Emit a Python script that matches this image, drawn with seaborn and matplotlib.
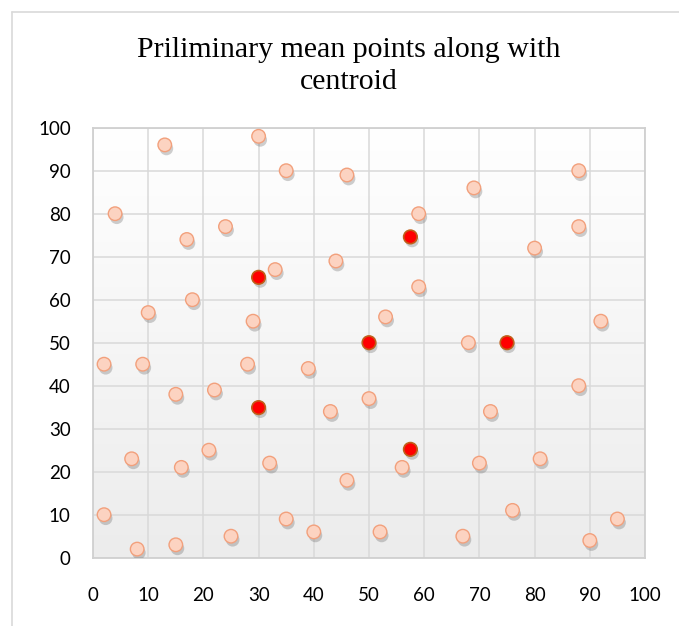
import numpy as np
import pandas as pd
import matplotlib
matplotlib.use("Agg")
import matplotlib.pyplot as plt
import matplotlib.patheffects as pe
from matplotlib.colors import LinearSegmentedColormap
from matplotlib.lines import Line2D
import seaborn as sns

# ---- data ----
points_x = [13, 30, 35, 46, 4, 17, 24, 59, 69, 88, 88, 80, 33, 44, 59, 18, 10, 29, 53, 92,
            2, 9, 28, 39, 68, 88, 15, 22, 43, 50, 72, 7, 16, 21, 32, 46, 56, 70, 81,
            2, 8, 15, 25, 35, 40, 52, 67, 76, 90, 95]
points_y = [96, 98, 90, 89, 80, 74, 77, 80, 86, 90, 77, 72, 67, 69, 63, 60, 57, 55, 56, 55,
            45, 45, 45, 44, 50, 40, 38, 39, 34, 37, 34, 23, 21, 25, 22, 18, 21, 22, 23,
            10, 2, 3, 5, 9, 6, 6, 5, 11, 4, 9]
centroid_x = [30, 57.5, 50, 75, 30, 57.5]
centroid_y = [65.2, 74.6, 50, 50, 34.9, 25.2]
x_ticks = [0, 10, 20, 30, 40, 50, 60, 70, 80, 90, 100]
y_ticks = [0, 10, 20, 30, 40, 50, 60, 70, 80, 90, 100]
title = "Priliminary mean points along with\ncentroid"

sns.set_theme(style="white")
plt.rcParams['font.family'] = ['Lato', 'DejaVu Sans']

W, H = 679, 626
fig = plt.figure(figsize=(W / 100, H / 100), dpi=100)
fig.patch.set_facecolor("white")

left, right, top, bottom = 93, 645, 127.7, 557.7
ax = fig.add_axes([left / W, 1 - bottom / H, (right - left) / W, (bottom - top) / H])

# gradient background (white at top, light gray at bottom)
cmap = LinearSegmentedColormap.from_list("bg", ["#ffffff", "#ececec"])
grad = np.linspace(0, 1, 256)[:, None]
ax.imshow(grad, extent=[0, 100, 0, 100], origin="upper", aspect="auto", cmap=cmap,
          zorder=0, interpolation="bicubic")

df_p = pd.DataFrame({"x": points_x, "y": points_y})
df_c = pd.DataFrame({"x": centroid_x, "y": centroid_y})

shadow = [pe.SimplePatchShadow(offset=(1.2, -2.6), shadow_rgbFace="#606060", alpha=0.3),
          pe.Normal()]

sns.scatterplot(data=df_p, x="x", y="y", ax=ax, s=95, color="#fcd3c1",
                edgecolor="#f2a07c", linewidth=1.0, zorder=3, path_effects=shadow)
sns.scatterplot(data=df_c, x="x", y="y", ax=ax, s=95, color="#ff0000",
                edgecolor="#c0601a", linewidth=1.2, zorder=4, path_effects=shadow)

ax.set_xlim(0, 100)
ax.set_ylim(0, 100)
ax.set_xticks(x_ticks)
ax.set_yticks(y_ticks)
ax.set_xticklabels([str(t) for t in x_ticks])
ax.set_yticklabels([str(t) for t in y_ticks])
ax.grid(True, color="#d9d9d9", linewidth=1.1, zorder=1)
ax.set_axisbelow(True)
ax.set_xlabel("")
ax.set_ylabel("")
for s in ["top", "right", "left", "bottom"]:
    ax.spines[s].set_color("#d0d0d0")
    ax.spines[s].set_linewidth(1.3)
ax.tick_params(axis="y", length=0, pad=16, labelsize=13.5, labelcolor="black")
ax.tick_params(axis="x", length=0, pad=21, labelsize=13.5, labelcolor="black")

# title
fig.text(349 / W, 1 - 37 / H, title, ha="center", va="top", fontsize=21.5,
         family=["Liberation Serif", "DejaVu Serif"], linespacing=1.32, color="black")

# outer chart frame
fx, fy = 12 / W, 1 - 12 / H
fig.add_artist(Line2D([fx, fx], [0, fy], color="#d9d9d9", linewidth=1.2))
fig.add_artist(Line2D([fx, 1], [fy, fy], color="#d9d9d9", linewidth=1.2))

fig.savefig("out.png", dpi=100)
